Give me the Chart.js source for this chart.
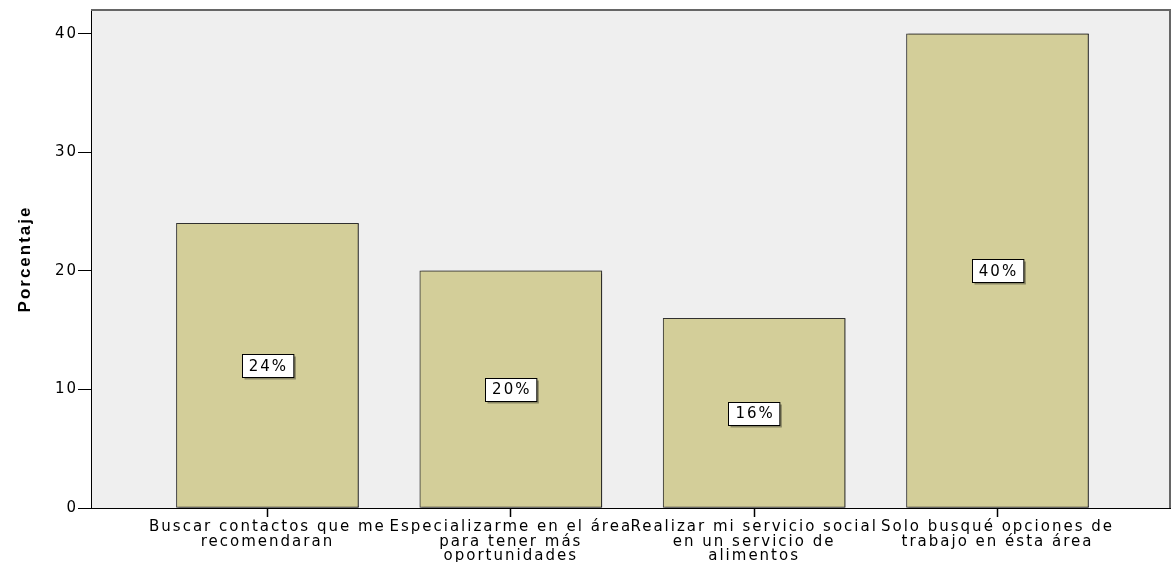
<!DOCTYPE html>
<html>
<head>
<meta charset="utf-8">
<script src="https://cdn.jsdelivr.net/npm/chart.js@4/dist/chart.umd.min.js"></script>
<style>
  html, body { margin: 0; padding: 0; background: #fff; }
  #wrap { width: 1173px; height: 562px; }
</style>
</head>
<body>
<div id="wrap"><canvas id="grafica"></canvas></div>
<script>
// ==================== DATOS ====================
const categorias = [
    ["Buscar contactos que me", "recomendaran"],
    ["Especializarme en el área", "para tener más", "oportunidades"],
    ["Realizar mi servicio social", "en un servicio de", "alimentos"],
    ["Solo busqué opciones de", "trabajo en ésta área"]
];
const porcentajes = [24, 20, 16, 40];
const ticksY = [0, 10, 20, 30, 40];

// ==================== PLUGINS ====================
// espaciado de letras como en el gráfico original
const espaciado = {
    id: "espaciado",
    beforeDraw(chart) {
        chart.ctx.letterSpacing = "2px";
    }
};

// fondo gris del área de trazado y marco superior/derecho
const marco = {
    id: "marco",
    beforeDraw(chart) {
        const { ctx, chartArea: a } = chart;
        ctx.save();
        ctx.fillStyle = "#efefef";
        ctx.fillRect(a.left, a.top, a.right - a.left, a.bottom - a.top);
        ctx.restore();
    },
    beforeDatasetsDraw(chart) {
        const ctx = chart.ctx;
        ctx.save();
        ctx.shadowColor = "rgba(0,0,0,0.45)";
        ctx.shadowOffsetX = 2;
        ctx.shadowOffsetY = 0;
        ctx.shadowBlur = 1;
    },
    afterDatasetsDraw(chart) {
        const { ctx, chartArea: a } = chart;
        ctx.restore();
        ctx.save();
        ctx.strokeStyle = "#666";
        ctx.lineWidth = 2;
        ctx.beginPath();
        ctx.moveTo(a.left, a.top);
        ctx.lineTo(a.right, a.top);
        ctx.lineTo(a.right, a.bottom);
        ctx.stroke();
        ctx.restore();
    }
};

// etiquetas con porcentaje en cajas blancas, a media altura de cada barra
const etiquetas = {
    id: "etiquetas",
    afterDatasetsDraw(chart) {
        const { ctx } = chart;
        const yScale = chart.scales.y;
        const meta = chart.getDatasetMeta(0);
        ctx.save();
        ctx.letterSpacing = "2px";
        ctx.font = "15px 'DejaVu Sans'";
        ctx.textAlign = "center";
        ctx.textBaseline = "middle";
        meta.data.forEach((bar, i) => {
            const v = porcentajes[i];
            const txt = `${v}%`;
            const cx = bar.x;
            const cy = yScale.getPixelForValue(v / 2);
            const w = ctx.measureText(txt).width + 12;
            const h = 23;
            const x0 = Math.round(cx - w / 2) + 0.5;
            const y0 = Math.round(cy - h / 2) + 0.5;
            ctx.fillStyle = "rgba(0,0,0,0.35)";
            ctx.fillRect(x0 + 2, y0 + 2, w, h);
            ctx.fillStyle = "#fff";
            ctx.fillRect(x0, y0, w, h);
            ctx.strokeStyle = "#000";
            ctx.lineWidth = 1;
            ctx.strokeRect(x0, y0, w, h);
            ctx.fillStyle = "#000";
            ctx.fillText(txt, cx + 1, cy + 1);
        });
        ctx.restore();
    }
};

// ==================== GRÁFICO ====================
Chart.defaults.color = "#000";
Chart.defaults.font.family = "'DejaVu Sans'";

const ctx = document.getElementById("grafica").getContext("2d");
new Chart(ctx, {
    type: "bar",
    data: {
        datasets: [{
            data: porcentajes.map((v, i) => ({ x: i, y: v })),
            backgroundColor: "#d3ce99",
            borderColor: "#333",
            borderWidth: 1,
            borderSkipped: false,
            barThickness: 182
        }]
    },
    options: {
        responsive: true,
        maintainAspectRatio: false,
        animation: false,
        layout: { padding: { top: 10, right: 3, left: 0, bottom: 0 } },
        plugins: {
            legend: { display: false },
            tooltip: { enabled: false }
        },
        scales: {
            x: {
                type: "linear",
                offset: false,
                min: -0.725,
                max: 3.709,
                afterBuildTicks: s => { s.ticks = categorias.map((c, i) => ({ value: i })); },
                afterFit: s => { s.height = 54; },
                grid: { offset: false, drawOnChartArea: false, tickLength: 9, color: "#000", tickWidth: 1.5 },
                border: { color: "#000", width: 1 },
                ticks: {
                    autoSkip: false,
                    maxRotation: 0,
                    padding: 3,
                    font: { size: 15, lineHeight: 0.97 },
                    callback: v => categorias[v] || ""
                }
            },
            y: {
                min: 0,
                max: 42,
                afterFit: s => { s.width = 91; },
                grid: { drawOnChartArea: false, tickLength: 13, color: "#000" },
                border: { color: "#000", width: 1 },
                ticks: {
                    stepSize: 10,
                    includeBounds: false,
                    padding: 0,
                    font: { size: 15 },
                    callback: v => ticksY.includes(v) ? v : ""
                },
                title: {
                    display: true,
                    text: "Porcentaje",
                    font: { family: "'Liberation Sans'", size: 17, weight: "bold" },
                    padding: { top: 15, bottom: 0 }
                }
            }
        }
    },
    plugins: [espaciado, marco, etiquetas]
});
</script>
</body>
</html>
